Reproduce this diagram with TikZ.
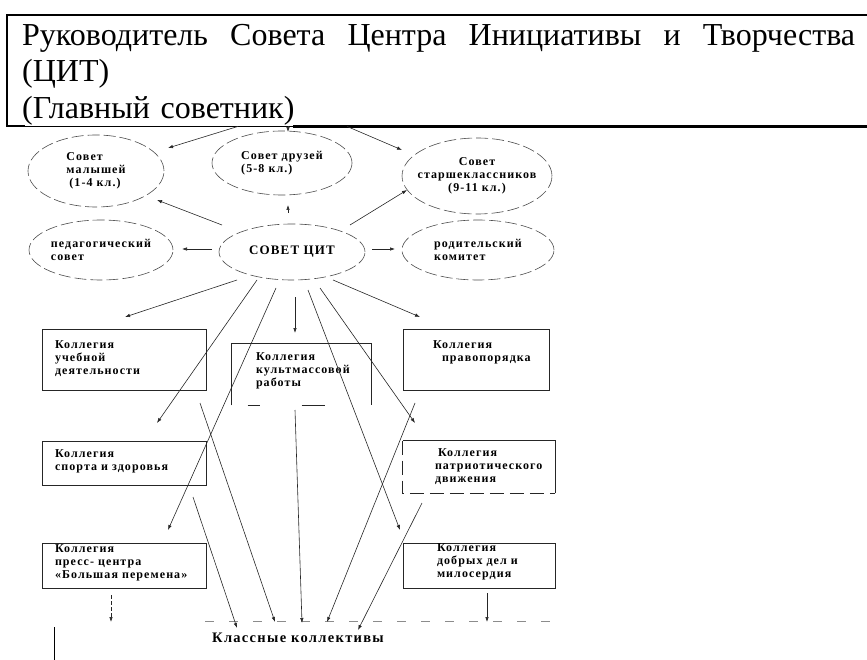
\documentclass[tikz,border=0pt]{standalone}
\usepackage{fontspec}
\setmainfont{Liberation Serif}
\newfontfamily\headfont{Liberation Serif}
\newfontfamily\diafont[LetterSpace=9]{Liberation Serif}
\usetikzlibrary{calc}
\usetikzlibrary{arrows.meta}
\usetikzlibrary{shapes.geometric}
\hyphenpenalty=10000
\exhyphenpenalty=10000

\begin{document}
\begin{tikzpicture}[x=1pt,y=-1pt,
        >={Latex[length=5pt,width=3.5pt]},
        frame/.style={line width=2pt},
        arr/.style={->,line width=0.6pt,black!85},
        oval/.style={ellipse,draw=black!70,dash pattern=on 12pt off 4pt,line width=0.6pt,inner xsep=-12pt,inner ysep=0pt,align=left,font=\diafont\bfseries\fontsize{12}{13}\selectfont},
        kolleg/.style={rectangle,draw=black!85,line width=0.7pt,inner ysep=0pt,text height=8pt,align=left,font=\diafont\bfseries\fontsize{12}{13}\selectfont}]
        \useasboundingbox (0,0) rectangle (867,660);

        \node[anchor=north west,inner xsep=15pt,inner ysep=0pt,text width=833pt,text height=30pt,text depth=81pt,align=left,font=\headfont\fontsize{32}{36.5}\selectfont] (head) at (7,15)
            {Руководитель\hfill Совета\hfill Центра\hfill Инициативы\hfill и\hfill Творчества\\(ЦИТ)\\(Главный советник)};
        \draw[frame] (head.north east) -- (head.north west) -- (head.south west) -- ++(18,0);
        \draw[line width=0.7pt] ($(head.south west)+(18,0)$) -- ++(539,0);
        \draw[frame,line width=2.4pt] ($(head.south west)+(286,0)$) -- (head.south east);

        \node[oval,minimum width=136,minimum height=72] (malysh) at (96,171) {Совет\\малышей\\\hspace*{3pt}(1-4 кл.)};
        \node[oval,minimum width=140,minimum height=64] (druz) at (282,163) {Совет~друзей\\(5-8 кл.)};
        \node[oval,minimum width=150,minimum height=76,align=center] (starsh) at (477,176) {Совет\\старшеклассников\\(9-11 кл.)};
        \node[oval,minimum width=144,minimum height=60] (ped) at (101,250) {педагогический\\совет};
        \node[oval,minimum width=146,minimum height=56,font=\diafont\bfseries\fontsize{13}{15}\selectfont] (cit) at (292,252) {СОВЕТ ЦИТ};
        \node[oval,minimum width=152,minimum height=60] (rodit) at (478,250) {родительский\\комитет};

        \node[kolleg,minimum width=164,minimum height=61,inner xsep=13pt,text width=138pt,text depth=31pt] (ucheb) at (124,359.5) {Коллегия\\учебной\\деятельности};
        \node[kolleg,draw=none,minimum width=139,minimum height=61,inner xsep=24pt,text width=91pt,text depth=37pt] (kult) at (301.5,374.5) {Коллегия\\культмассовой\\работы};
        \node[kolleg,minimum width=146,minimum height=61,inner xsep=30pt,text width=86pt,text depth=31pt] (pravo) at (476,359.5) {Коллегия\\\hspace*{9pt}правопорядка};
        \node[kolleg,minimum width=164,minimum height=44,inner xsep=13pt,text width=138pt,text depth=20pt] (sport) at (124,463) {Коллегия\\спорта~и~здоровья};
        \node[kolleg,draw=none,minimum width=152,minimum height=52,inner xsep=32pt,text width=88pt,text depth=30pt] (patr) at (479,467) {\hspace*{3pt}Коллегия\\патриотического\\движения};
        \node[kolleg,minimum width=164,minimum height=45,inner xsep=13pt,text width=138pt,text depth=35pt] (press) at (124,565.5) {Коллегия\\пресс-~центра\\«Большая~перемена»};
        \node[kolleg,minimum width=152,minimum height=45,inner xsep=34pt,text width=84pt,text depth=37pt] (dobr) at (479,565.5) {Коллегия\\добрых~дел~и\\милосердия};
        \node[anchor=base,font=\diafont\bfseries\fontsize{14.5}{16}\selectfont] (klass) at (298,642) {Классные коллективы};

        \draw[line width=0.7pt,black!85] (kult.south west) -- (kult.north west) -- (kult.north east) -- (kult.south east);
        \draw[line width=0.7pt,black!85] ($(kult.south west)+(16,0)$) -- ++(12,0);
        \draw[line width=0.7pt,black!85] ($(kult.south west)+(70,0)$) -- ++(23,0);
        \draw[line width=0.7pt,black!85] (patr.south east) -- (patr.north east) -- (patr.north west);
        \draw[line width=0.7pt,black!85,dash pattern=on 14pt off 6pt] (patr.north west) -- (patr.south west) -- (patr.south east);
        \draw[line width=0.6pt,black!45,dash pattern=on 9pt off 15pt] ($(klass.base)+(-93,-21)$) -- ($(klass.base)+(252,-21)$);
        \draw[line width=0.7pt] (54,627) -- (54,660);

        \draw[arr] ($(head.south west)+(231,0)$) -- ($(malysh)+(72,-23)$);
        \draw[arr] ($(head.south west)+(281,0)$) -- ($(druz)+(6,-31)$);
        \draw[arr] ($(head.south west)+(340,0)$) -- ($(starsh)+(-75,-26)$);

        \draw[arr] ($(cit)+(-70,-27)$) -- ($(malysh)+(61,29)$);
        \draw[arr] ($(cit)+(-4,-39)$) -- ($(druz)+(6,42)$);
        \draw[arr] ($(cit)+(58,-27)$) -- ($(starsh)+(-70,14)$);
        \draw[arr] ($(cit)+(-80,-3)$) -- ($(ped)+(81,-1)$);
        \draw[arr] ($(cit)+(80,-3)$) -- ($(rodit)+(-83,-1)$);

        \draw[arr] ($(cit)+(-55,28)$) -- ($(ucheb)+(1,-42.5)$);
        \draw[arr] ($(cit)+(-35,28)$) -- ($(sport)+(33,-40)$);
        \draw[arr] ($(cit)+(-16,36)$) -- ($(press)+(44,-35.5)$);
        \draw[arr] ($(cit)+(3,45)$) -- ($(kult)+(-6.5,-41.5)$);
        \draw[arr] ($(cit)+(16,38)$) -- ($(dobr)+(-79,-35.5)$);
        \draw[arr] ($(cit)+(28,36)$) -- ($(patr)+(-64,-44)$);
        \draw[arr] ($(cit)+(41,28)$) -- ($(pravo)+(-56,-42.5)$);

        \draw[arr] ($(ucheb)+(76,43.5)$) -- ($(klass.base)+(-23,-20)$);
        \draw[arr] ($(sport)+(69,34)$) -- ($(klass.base)+(-61,-14)$);
        \draw[arr] ($(kult)+(-6.5,35.5)$) -- ($(klass.base)+(4,-19)$);
        \draw[arr] ($(pravo)+(-61,43.5)$) -- ($(klass.base)+(29,-20)$);
        \draw[arr] ($(patr)+(-57,36)$) -- ($(klass.base)+(60,-12)$);
        \draw[arr,dash pattern=on 4pt off 2pt] ($(press)+(-13,29.5)$) -- ($(press)+(-13,56.5)$);
        \draw[arr] ($(dobr)+(8,27.5)$) -- ($(dobr)+(8,56.5)$);
\end{tikzpicture}
\end{document}
